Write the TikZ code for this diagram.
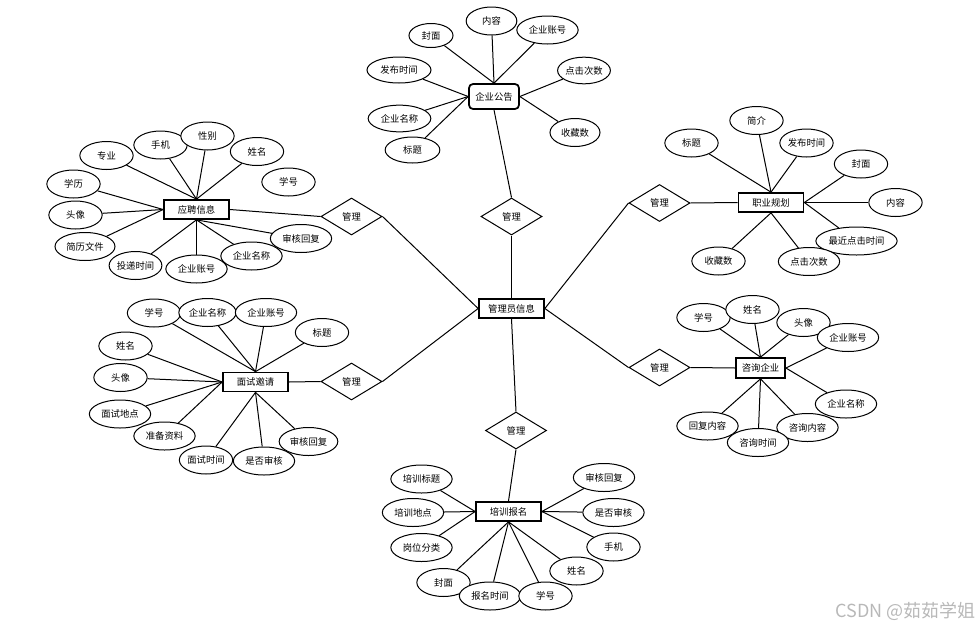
\documentclass[tikz,border=0pt]{standalone}
\usepackage{fontspec}
\newfontfamily\cjk{Noto Sans CJK SC}
\usetikzlibrary{shapes.geometric}

\tikzset{every picture/.style={line width=0.75pt}}
\tikzset{
  attr/.style={ellipse, draw, fill=white, minimum width=40pt, minimum height=21pt, inner sep=0pt},
  attrm/.style={attr, minimum width=46pt},
  attrl/.style={attr, minimum width=61pt},
  ent/.style={draw, fill=white, line width=1.3pt, minimum width=48.75pt, minimum height=14.25pt, inner sep=0pt},
  rel/.style={diamond, draw, fill=white, aspect=1.65, minimum width=45.75pt, minimum height=27.75pt, inner sep=0pt},
}

\begin{document}
\begin{tikzpicture}[x=0.75pt,y=0.75pt,yscale=-1,xscale=1,font=\cjk\fontsize{7}{8}\selectfont]
\useasboundingbox (0,0) rectangle (979,629);

%Entities
\node[ent] (admin) at (511.5,308.5) {管理员信息};
\node[ent, rounded corners=3pt, minimum width=37.5pt, minimum height=18.75pt] (gg) at (494,96.5) {企业公告};
\node[ent] (yp) at (196.5,209.5) {应聘信息};
\node[ent] (zy) at (771,202.5) {职业规划};
\node[ent] (ms) at (255.5,382) {面试邀请};
\node[ent, minimum width=36.75pt, minimum height=15pt] (zx) at (760.5,368) {咨询企业};
\node[ent] (px) at (508.5,511.5) {培训报名};

%Relations
\node[rel] (r1) at (511.5,216.5) {管理};
\node[rel] (r2) at (351.5,216.5) {管理};
\node[rel] (r3) at (351.5,381.5) {管理};
\node[rel] (r4) at (516,430.5) {管理};
\node[rel] (r5) at (659.5,203) {管理};
\node[rel] (r6) at (659.5,367.5) {管理};

%Straight Lines
\draw (r1.south) -- (admin.north);
\draw (r2.east) -- (admin.west);
\draw (r3.east) -- (admin.west);
\draw (r5.west) -- (admin.east);
\draw (r6.west) -- (admin.east);
\draw (r4.north) -- (admin.south);
\draw (r1.north) -- (gg.south);
\draw (r2.west) -- (yp.east);
\draw (r3.west) -- (ms.east);
\draw (r5.east) -- (zy.west);
\draw (r6.east) -- (zx.west);
\draw (r4.south) -- (px.north);

%Shape: Ellipse -- 企业公告
\node[attr, minimum width=33pt, minimum height=18pt] (gg1) at (431,35.5) {封面};
\node[attr, minimum width=38pt] (gg2) at (491.5,21) {内容};
\node[attrm] (gg3) at (547.5,30) {企业账号};
\node[attr, minimum width=48pt, minimum height=19.5pt] (gg4) at (399,70) {发布时间};
\node[attr, minimum width=39pt, minimum height=20pt] (gg5) at (584,70.5) {点击次数};
\node[attr, minimum width=47pt, minimum height=20pt] (gg6) at (399.5,118.5) {企业名称};
\node[attr, minimum width=41pt, minimum height=19.5pt] (gg7) at (412.5,150) {标题};
\node[attr, minimum width=37.5pt] (gg8) at (575,132.5) {收藏数};
\foreach \a in {gg1,gg2,gg3} \draw (\a) -- (gg.north);
\foreach \a in {gg4,gg6,gg7} \draw (\a) -- (gg.west);
\foreach \a in {gg5,gg8} \draw (\a) -- (gg.east);

%Shape: Ellipse -- 应聘信息
\node[attr] (yp1) at (106.5,155.5) {专业};
\node[attr] (yp2) at (160.5,145) {手机};
\node[attr] (yp3) at (207.5,136) {性别};
\node[attr] (yp4) at (257,151.5) {姓名};
\node[attr] (yp5) at (288.5,182) {学号};
\node[attr] (yp6) at (73.5,184) {学历};
\node[attr] (yp7) at (75.5,215) {头像};
\node[attr, minimum width=45pt] (yp8) at (85,246.5) {简历文件};
\node[attr, minimum width=38pt] (yp9) at (135.5,265.5) {投递时间};
\node[attrm] (yp10) at (196.5,269) {企业账号};
\node[attrm] (yp11) at (251.5,256) {企业名称};
\node[attrm] (yp12) at (301,238.5) {审核回复};
\foreach \a in {yp1,yp2,yp3,yp4} \draw (\a) -- (yp.north);
\foreach \a in {yp6,yp7,yp8} \draw (\a) -- (yp.west);
\foreach \a in {yp9,yp10,yp11,yp12} \draw (\a) -- (yp.south);

%Shape: Ellipse -- 职业规划
\node[attr] (zy1) at (691.5,143) {标题};
\node[attr] (zy2) at (756.5,120.5) {简介};
\node[attr] (zy3) at (806.5,143) {发布时间};
\node[attr] (zy4) at (861,164) {封面};
\node[attr] (zy5) at (895.5,202.5) {内容};
\node[attrl] (zy6) at (856.5,241) {最近点击时间};
\node[attrm] (zy7) at (809,261.5) {点击次数};
\node[attr] (zy8) at (718.5,261) {收藏数};
\foreach \a in {zy1,zy2,zy3} \draw (\a) -- (zy.north);
\foreach \a in {zy4,zy5,zy6} \draw (\a) -- (zy.east);
\foreach \a in {zy7,zy8} \draw (\a) -- (zy.south);

%Shape: Ellipse -- 面试邀请
\node[attr] (ms1) at (154,313) {学号};
\node[attr, minimum width=43pt] (ms2) at (207.5,312.5) {企业名称};
\node[attrm] (ms3) at (266,312.5) {企业账号};
\node[attr] (ms4) at (322,332.5) {标题};
\node[attr] (ms5) at (125.5,346) {姓名};
\node[attr] (ms6) at (120.5,377.5) {头像};
\node[attrm] (ms7) at (120,414) {面试地点};
\node[attrm] (ms8) at (164.5,436) {准备资料};
\node[attr] (ms9) at (206,460) {面试时间};
\node[attrm] (ms10) at (264,461) {是否审核};
\node[attr, minimum width=44pt] (ms11) at (308.5,441.5) {审核回复};
\foreach \a in {ms1,ms2,ms3,ms4} \draw (\a) -- (ms.north);
\foreach \a in {ms5,ms6,ms7,ms8} \draw (\a) -- (ms.west);
\foreach \a in {ms9,ms10,ms11} \draw (\a) -- (ms.south);

%Shape: Ellipse -- 咨询企业
\node[attr] (zx1) at (703.5,317.5) {学号};
\node[attr] (zx2) at (752.5,309.5) {姓名};
\node[attr] (zx3) at (803.5,322.5) {头像};
\node[attrm] (zx4) at (848,337.5) {企业账号};
\node[attrm] (zx5) at (846,404) {企业名称};
\node[attrm] (zx8) at (707.5,426) {回复内容};
\node[attrm] (zx6) at (807.5,427.5) {咨询内容};
\node[attrm] (zx7) at (758,442.5) {咨询时间};
\foreach \a in {zx1,zx2,zx3} \draw (\a) -- (zx.north);
\foreach \a in {zx4,zx5} \draw (\a) -- (zx.east);
\foreach \a in {zx6,zx7,zx8} \draw (\a) -- (zx.south);

%Shape: Ellipse -- 培训报名
\node[attrm] (px1) at (421.5,479) {培训标题};
\node[attrm] (px2) at (413,512.5) {培训地点};
\node[attrm] (px3) at (421.5,547.5) {岗位分类};
\node[attrm] (px4) at (604,477.5) {审核回复};
\node[attrm] (px5) at (613.5,512.5) {是否审核};
\node[attr] (px6) at (613.5,547) {手机};
\node[attr] (px7) at (576.5,571) {姓名};
\node[attr] (px8) at (443.5,582.5) {封面};
\node[attrm] (px9) at (490,596) {报名时间};
\node[attr] (px10) at (545.5,596) {学号};
\foreach \a in {px1,px2,px3} \draw (\a) -- (px.west);
\foreach \a in {px4,px5,px6} \draw (\a) -- (px.east);
\foreach \a in {px7,px8,px9,px10} \draw (\a) -- (px.south);

% Text Node
\node[anchor=east, inner sep=0pt, text=black!28, font=\cjk\fontsize{13.5}{15}\selectfont] (wm) at (976,611) {CSDN @茹茹学姐};

\end{tikzpicture}
\end{document}
